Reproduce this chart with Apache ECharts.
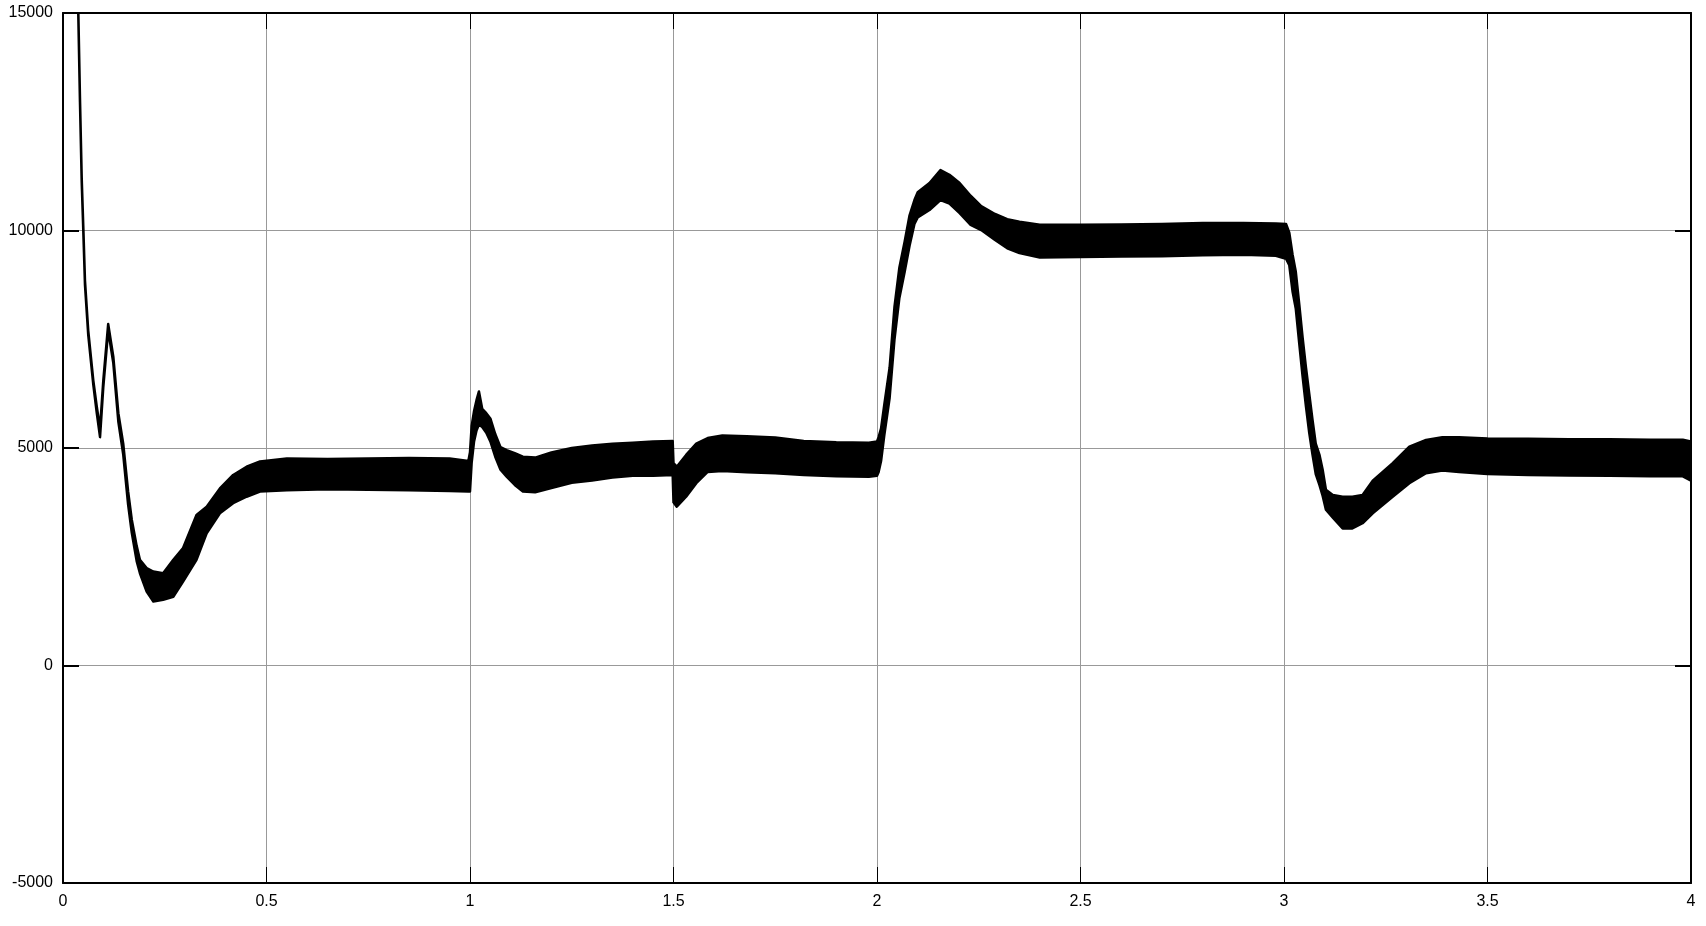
<!DOCTYPE html>
<html>
<head>
<meta charset="utf-8">
<script src="https://cdn.jsdelivr.net/npm/echarts@6.0.0/dist/echarts.min.js"></script>
<style>
  html, body { margin: 0; padding: 0; background: #fff; }
  #chart { width: 1706px; height: 926px; }
</style>
</head>
<body>
<div id="chart"></div>
<script>
// time axis (s) and the lower / upper edge of the noisy trace
const timeS = [
  0.030, 0.0376, 0.0417, 0.046, 0.050, 0.054, 0.062, 0.0745, 0.083, 0.091,
  0.099, 0.111, 0.1236, 0.136, 0.148, 0.160, 0.169, 0.181, 0.189, 0.2055,
  0.222, 0.246, 0.271, 0.295, 0.328, 0.353, 0.3855, 0.418, 0.451, 0.484,
  0.55, 0.65, 0.75, 0.85, 0.95, 0.996,
  1.000, 1.004, 1.010, 1.016, 1.022, 1.030, 1.040, 1.050, 1.062, 1.075,
  1.090, 1.110, 1.130, 1.160, 1.200, 1.250, 1.300, 1.350, 1.400, 1.450, 1.498,
  1.500, 1.508, 1.531, 1.556, 1.584, 1.620, 1.680, 1.750, 1.820, 1.900, 1.980,
  2.000, 2.004, 2.010, 2.018, 2.031, 2.043, 2.055, 2.068, 2.080, 2.092, 2.100,
  2.129, 2.156, 2.178, 2.203, 2.230, 2.256, 2.290, 2.320, 2.350, 2.400,
  2.500, 2.600, 2.700, 2.800, 2.900, 2.980,
  3.005, 3.013, 3.021, 3.029, 3.0375, 3.0456, 3.054, 3.062, 3.070, 3.078,
  3.087, 3.095, 3.103, 3.120, 3.144, 3.168, 3.193, 3.218, 3.267, 3.308,
  3.349, 3.389, 3.430, 3.500, 3.600, 3.700, 3.800, 3.900, 3.980, 4.000
];
const lowerV = [
  18400, 14950, 12950, 11100, 9950, 8750, 7600, 6450, 5800, 5250,
  6400, 7700, 6950, 5600, 4850, 3700, 3050, 2400, 2120, 1700,
  1470, 1510, 1580, 1930, 2430, 3040, 3500, 3730, 3880, 4000,
  4030, 4050, 4040, 4030, 4010, 4000,
  4000, 4650, 5150, 5400, 5540, 5480, 5350, 5150, 4800, 4500,
  4340, 4150, 4000, 3980, 4080, 4200, 4250, 4320, 4360, 4360, 4380,
  3750, 3650, 3880, 4190, 4450, 4470, 4440, 4420, 4380, 4350, 4340,
  4360, 4450, 4700, 5300, 6150, 7500, 8450, 9050, 9650, 10150, 10300,
  10470, 10700, 10620, 10400, 10130, 10010, 9780, 9590, 9480, 9380,
  9390, 9400, 9410, 9430, 9440, 9420,
  9350, 9200, 8600, 8200, 7400, 6650, 5950, 5350, 4850, 4400,
  4150, 3900, 3580, 3400, 3150, 3150, 3270, 3500, 3880, 4190,
  4420, 4480, 4450, 4400, 4380, 4370, 4360, 4350, 4350, 4250
];
const upperV = [
  18500, 15050, 13050, 11200, 10050, 8850, 7700, 6550, 5950, 5450,
  6550, 7850, 7100, 5800, 5100, 4000, 3350, 2750, 2430, 2240,
  2160, 2120, 2430, 2700, 3460, 3650, 4070, 4380, 4570, 4690,
  4760, 4750, 4760, 4770, 4760, 4700,
  4900, 5500, 5850, 6100, 6300, 5900, 5800, 5680, 5320, 5020,
  4950, 4880, 4800, 4780, 4900, 5000, 5060, 5100, 5120, 5150, 5160,
  4650, 4570, 4840, 5100, 5230, 5290, 5270, 5240, 5160, 5130, 5120,
  5150, 5250, 5450, 6000, 6850, 8250, 9150, 9750, 10350, 10700, 10880,
  11090, 11390, 11280, 11090, 10800, 10560, 10380, 10260, 10200, 10130,
  10130, 10140, 10150, 10170, 10170, 10160,
  10150, 9950, 9450, 9050, 8300, 7550, 6850, 6250, 5650, 5100,
  4850, 4500, 4040, 3920, 3880, 3880, 3920, 4250, 4650, 5030,
  5185, 5250, 5250, 5220, 5210, 5200, 5200, 5190, 5190, 5150
];

const chart = echarts.init(document.getElementById('chart'));

const traceData = timeS.map((t, i) => [t, lowerV[i], upperV[i]]);

const labelStyle = { color: '#000', fontFamily: 'Liberation Sans, Arial, sans-serif', fontSize: 16 };
const frame = { show: true, onZero: false, lineStyle: { color: '#000', width: 2 } };

function xAx(position, labels) {
  return {
    type: 'value', position, min: 0, max: 4, interval: 0.5,
    axisLine: frame,
    axisTick: { show: true, inside: true, length: 16, lineStyle: { color: '#000', width: 1 } },
    axisLabel: { show: labels, margin: 11, ...labelStyle },
    splitLine: { show: labels, lineStyle: { color: '#999', width: 1 } }
  };
}
function yAx(position, labels) {
  return {
    type: 'value', position, min: -5000, max: 15000, interval: 5000,
    axisLine: frame,
    axisTick: { show: true, inside: true, length: 16, lineStyle: { color: '#000', width: 2 } },
    axisLabel: { show: labels, margin: 10, formatter: (v) => String(v), ...labelStyle },
    splitLine: { show: labels, lineStyle: { color: '#999', width: 1 } }
  };
}

// one filled polygon between the lower and upper edge, positioned through the axes
function renderTrace(params, api) {
  if (params.dataIndex !== 0) return null;
  const top = traceData.map((d) => api.coord([d[0], d[2]]));
  const bottom = traceData.map((d) => api.coord([d[0], d[1]])).reverse();
  return {
    type: 'polygon',
    shape: { points: top.concat(bottom) },
    style: { fill: '#000', stroke: '#000', lineWidth: 2.5, lineJoin: 'round' }
  };
}

chart.setOption({
  backgroundColor: '#fff',
  animation: false,
  grid: { left: 63, right: 15, top: 13, bottom: 43, containLabel: false },
  xAxis: [xAx('bottom', true), xAx('top', false)],
  yAxis: [yAx('left', true), yAx('right', false)],
  series: [
    {
      name: 'trace',
      type: 'custom',
      renderItem: renderTrace,
      data: traceData,
      encode: { x: 0, y: [1, 2] },
      clip: true,
      z: 3
    }
  ]
});
</script>
</body>
</html>
